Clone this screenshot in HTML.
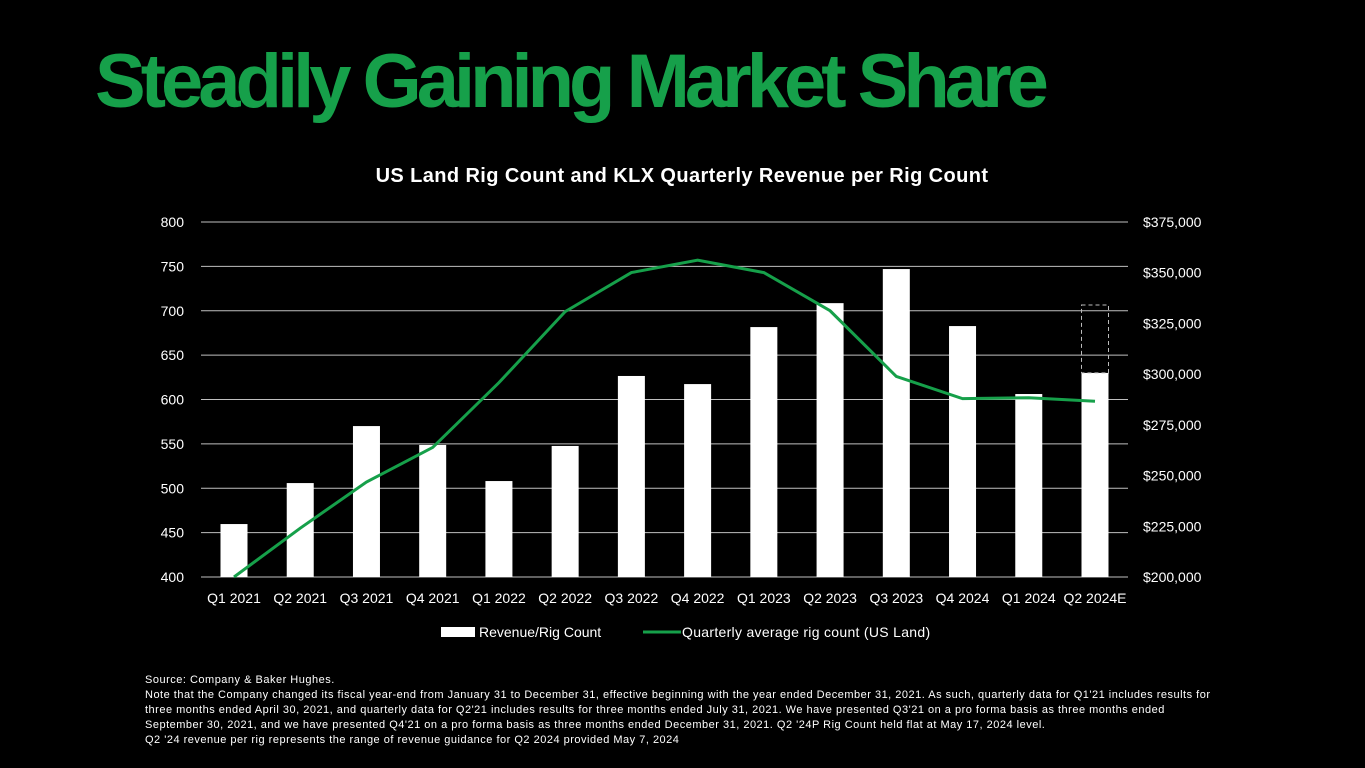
<!DOCTYPE html>
<html><head><meta charset="utf-8"><style>
body{margin:0;background:#000;width:1365px;height:768px;overflow:hidden;font-family:"Liberation Sans",sans-serif;}
#title{position:absolute;left:95px;top:38px;font-size:76px;color:#16a04a;font-weight:bold;letter-spacing:-5px;}
#notes{position:absolute;left:145px;top:673px;width:1075px;font-size:11px;letter-spacing:0.5px;color:#fff;line-height:15px;}
</style></head><body>
<div id="title">Steadily Gaining Market Share</div>
<svg id="chart" width="1365" height="768" style="position:absolute;left:0;top:0"></svg>
<div id="notes">Source: Company &amp; Baker Hughes.<br>Note that the Company changed its fiscal year-end from January 31 to December 31, effective beginning with the year ended December 31, 2021. As such, quarterly data for Q1'21 includes results for three months ended April 30, 2021, and quarterly data for Q2'21 includes results for three months ended July 31, 2021. We have presented Q3'21 on a pro forma basis as three months ended September 30, 2021, and we have presented Q4'21 on a pro forma basis as three months ended December 31, 2021. Q2 '24P Rig Count held flat at May 17, 2024 level.<br>Q2 '24 revenue per rig represents the range of revenue guidance for Q2 2024 provided May 7, 2024</div>
<script>
const categories=["Q1 2021","Q2 2021","Q3 2021","Q4 2021","Q1 2022","Q2 2022","Q3 2022","Q4 2022","Q1 2023","Q2 2023","Q3 2023","Q4 2024","Q1 2024","Q2 2024E"];
const revenuePerRig=[226100,246300,274400,265100,247300,264600,299100,295100,323200,335000,351800,323700,290200,300600];
const revenueRangeHigh=[null,null,null,null,null,null,null,null,null,null,null,null,null,334100];
const rigCount=[400,455,507,546,619,699,743,757,743,700,626,601,602,598];
const leftTicks=[400,450,500,550,600,650,700,750,800];
const rightTicks=[200000,225000,250000,275000,300000,325000,350000,375000];
const NS="http://www.w3.org/2000/svg";
const svg=document.getElementById('chart');
const top0=222,bot=577,x0=201,x1=1128;
const yL=v=>bot-(v-400)/400*(bot-top0);
const yR=v=>bot-(v-200000)/175000*(bot-top0);
const xC=i=>234+i*(1095-234)/(categories.length-1);
function mk(t,a,txt){const e=document.createElementNS(NS,t);for(const k in a)e.setAttribute(k,a[k]);if(txt!==undefined)e.textContent=txt;svg.appendChild(e);return e;}
let e=mk('text',{x:682,y:182,fill:'#fff','font-size':20,'letter-spacing':0.4,'font-weight':'bold','text-anchor':'middle'},'US Land Rig Count and KLX Quarterly Revenue per Rig Count');


leftTicks.forEach(v=>{
 let g=mk('line',{x1:x0,x2:x1,y1:yL(v),y2:yL(v),stroke:'#bfbfbf','stroke-width':1});
 
 
 let t=mk('text',{x:184,y:yL(v)+5,fill:'#fff','font-size':14,'text-anchor':'end'},v);
 
 
});
rightTicks.forEach(v=>{
 let t=mk('text',{x:1143,y:yR(v)+5,fill:'#fff','font-size':14},'$'+v.toLocaleString('en-US'));
 
 
});
categories.forEach((c,i)=>{
 let b=mk('rect',{x:xC(i)-13.5,y:yR(revenuePerRig[i]),width:27,height:bot-yR(revenuePerRig[i]),fill:'#fff'});
 
 
 if(revenueRangeHigh[i]!=null){
  let d=mk('rect',{x:xC(i)-13.5,y:yR(revenueRangeHigh[i]),width:27,height:yR(revenuePerRig[i])-yR(revenueRangeHigh[i]),fill:'none',stroke:'#bbb','stroke-dasharray':'4,3','stroke-width':1});
  
  
 }
 let t=mk('text',{x:xC(i),y:603,fill:'#fff','font-size':14,'text-anchor':'middle'},c);
 
 
});
let l=mk('polyline',{points:rigCount.map((v,i)=>xC(i)+','+yL(v)).join(' '),fill:'none',stroke:'#16a04a','stroke-width':3});


let lg1=mk('rect',{x:441,y:627,width:34,height:10,fill:'#fff'});


let lt1=mk('text',{x:479,y:637,fill:'#fff','font-size':14},'Revenue/Rig Count');


let lg2=mk('line',{x1:643,x2:681,y1:632,y2:632,stroke:'#16a04a','stroke-width':3});


let lt2=mk('text',{x:682,y:637,fill:'#fff','font-size':14,'letter-spacing':0.3},'Quarterly average rig count (US Land)');


</script>
</body></html>
